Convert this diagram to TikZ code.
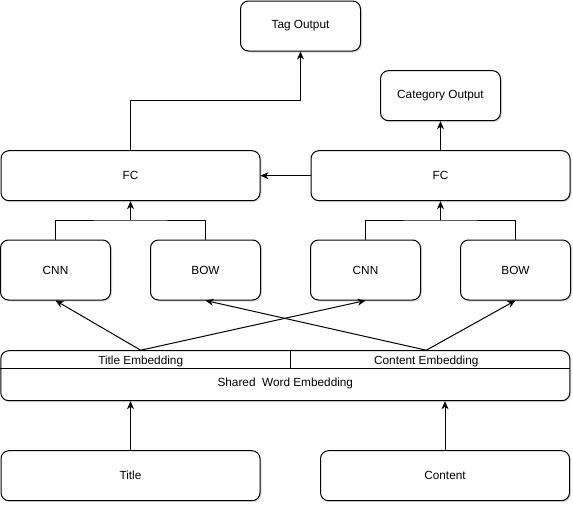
\documentclass[tikz,border=0pt]{standalone}
\usepackage{fontspec}
\setmainfont{Liberation Sans}
\usetikzlibrary{arrows.meta,shadows}
\begin{document}
\begin{tikzpicture}[x=1pt,y=-1pt,
  box/.style={draw,line width=1pt,rounded corners=8pt,fill=white,
    drop shadow={shadow xshift=1.5pt,shadow yshift=-1.5pt,opacity=0.25},
    font=\fontsize{11.8}{13}\selectfont},
  lbl/.style={font=\fontsize{11.8}{13}\selectfont},
  arr/.style={line width=1pt,-{Stealth[length=8pt,width=7pt,inset=2.5pt]}}]
\useasboundingbox (0,0) rectangle (573,504);
\node[box,minimum width=120pt,minimum height=50pt] (tag) at (300.5,26) {Tag Output};
\node[box,minimum width=120pt,minimum height=50pt] (cat) at (440.5,95.7) {Category Output};
\node[box,minimum width=259pt,minimum height=50pt] (fcl) at (130.5,175.7) {FC};
\node[box,minimum width=259pt,minimum height=50pt] (fcr) at (440.5,175.7) {FC};
\node[box,minimum width=110pt,minimum height=60pt] (cnnl) at (55.5,270) {CNN};
\node[box,minimum width=110pt,minimum height=60pt] (bowl) at (205.5,270) {BOW};
\node[box,minimum width=110pt,minimum height=60pt] (cnnr) at (365.5,270) {CNN};
\node[box,minimum width=110pt,minimum height=60pt] (bowr) at (515.5,270) {BOW};
\node[box,minimum width=569pt,minimum height=50pt] (emb) at (285.3,375.7) {};
\node[box,minimum width=259pt,minimum height=50pt] (title) at (130.5,475.7) {Title};
\node[box,minimum width=249pt,minimum height=50pt] (content) at (445,475.7) {Content};
\coordinate (ediv) at (290.3,368.7);
\draw[line width=1pt] (emb.west |- ediv) -- (emb.east |- ediv);
\draw[line width=1pt] (ediv) -- (ediv |- emb.north);
\node[lbl] (te) at (140.7,361) {Title Embedding};
\node[lbl] (ce) at (426.3,361) {Content Embedding};
\node[lbl] (swe) at (285.3,383) {Shared\ \ Word Embedding};
\coordinate (ml) at (130.5,220);
\coordinate (mr) at (440.5,220);
\coordinate (bend) at (130.5,100);
\draw[line width=1pt] (cnnl.north) |- (ml) -| (bowl.north);
\draw[line width=1pt] (cnnr.north) |- (mr) -| (bowr.north);
\draw[arr] (ml) -- (fcl.south);
\draw[arr] (mr) -- (fcr.south);
\draw[arr] (fcl.north) -- (bend) -| (tag.south);
\draw[arr] (fcr.north) -- (cat.south);
\draw[arr] (fcr.west) -- (fcl.east);
\draw[arr] (te |- emb.north) -- (cnnl.south);
\draw[arr] (te |- emb.north) -- (cnnr.south);
\draw[arr] (ce |- emb.north) -- (bowl.south);
\draw[arr] (ce |- emb.north) -- (bowr.south);
\draw[arr] (title.north) -- (title.north |- emb.south);
\draw[arr] (content.north) -- (content.north |- emb.south);
\end{tikzpicture}
\end{document}
